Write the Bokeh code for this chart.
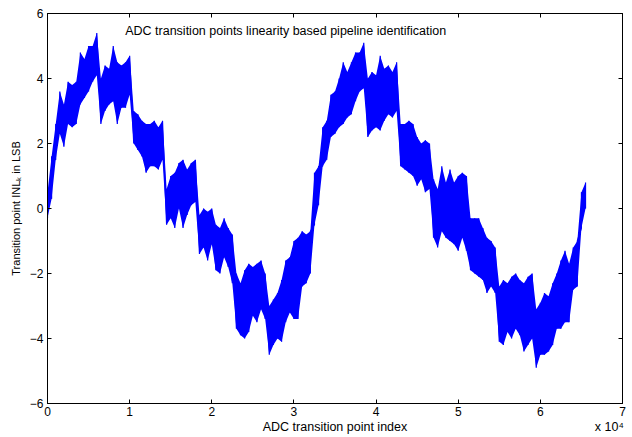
from bokeh.plotting import figure
from bokeh.models import Range1d, LinearAxis, FixedTicker, Label
from bokeh.embed import file_html
from bokeh.resources import INLINE

# Transition point index grid (every 500 codes) and INL envelope
idx = list(range(0, 65501, 500))
inl_low = [
    -0.3, 0.3, 1.5, 2.3, 1.9, 2.6, 2.5, 2.6, 3.2, 3.4,
    3.6, 3.9, 4.1, 2.6, 3.0, 3.2, 3.3, 2.6, 3.1, 3.1,
    3.5, 2.0, 1.8, 1.6, 1.1, 1.3, 1.3, 1.2, 1.5, -0.5,
    -0.3, -0.6, 0.0, -0.6, -0.2, 0.1, 0.2, -1.4, -1.2, -1.6,
    -1.1, -1.9, -2.0, -1.5, -1.8, -2.3, -3.7, -3.9, -4.0, -3.8,
    -3.3, -3.5, -3.1, -3.4, -4.5, -4.2, -4.0, -4.1, -3.5, -3.2,
    -3.4, -3.4, -2.4, -2.3, -2.0, -0.5, 0.1, 1.3, 1.5, 2.2,
    2.3, 2.5, 2.6, 2.8, 2.9, 3.3, 3.6, 3.7, 2.2, 2.4,
    2.5, 2.4, 2.7, 2.9, 2.8, 3.0, 1.3, 1.2, 1.1, 1.0,
    0.7, 0.9, 0.5, 0.6, -0.9, -1.2, -0.7, -0.9, -1.0, -1.1,
    -1.3, -0.9, -1.3, -1.9, -2.0, -2.1, -2.2, -2.6, -2.4, -2.6,
    -4.1, -4.2, -3.8, -4.0, -3.7, -3.9, -4.4, -4.2, -4.0, -4.9,
    -4.5, -4.5, -4.4, -4.2, -3.7, -3.7, -3.5, -3.5, -2.5, -2.4,
    -0.6, 0.0,
]
inl_high = [
    0.5, 1.6, 2.6, 3.6, 3.2, 3.9, 3.8, 3.9, 4.8, 4.6,
    5.0, 5.0, 5.4, 4.0, 4.4, 4.3, 5.0, 4.5, 4.4, 4.5,
    4.7, 3.0, 2.9, 2.7, 2.6, 2.6, 2.7, 2.5, 2.7, 0.6,
    1.0, 1.1, 1.4, 1.5, 1.2, 1.4, 1.5, -0.2, 0.0, -0.1,
    0.0, -0.5, -0.6, -0.3, -0.6, -0.8, -2.0, -2.3, -1.9, -1.7,
    -1.8, -1.7, -1.6, -2.0, -3.0, -2.8, -2.6, -2.2, -1.6, -1.5,
    -1.0, -0.9, -0.7, -0.8, -0.7, 1.1, 1.3, 2.5, 2.7, 3.5,
    3.6, 4.0, 4.5, 4.2, 4.5, 4.8, 4.8, 5.1, 4.0, 4.2,
    4.1, 4.7, 4.3, 4.4, 4.2, 4.5, 2.6, 2.6, 2.7, 2.6,
    2.2, 2.0, 2.1, 2.0, 0.9, 0.6, 1.3, 0.8, 1.2, 0.8,
    1.0, 1.1, 1.0, -0.3, -0.3, -0.3, -0.6, -0.9, -1.0, -1.2,
    -2.4, -2.2, -2.3, -2.1, -2.0, -2.2, -2.3, -2.1, -2.0, -3.1,
    -2.9, -2.6, -2.7, -2.3, -2.0, -1.6, -1.3, -1.7, -1.2, -1.0,
    0.5, 0.8,
]
x_ticks = [0, 10000, 20000, 30000, 40000, 50000, 60000, 70000]
x_tick_labels = ["0", "1", "2", "3", "4", "5", "6", "7"]
y_ticks = [-6, -4, -2, 0, 2, 4, 6]

title_text = "ADC transition points linearity based pipeline identification"
x_label = "ADC transition point index"
x_scale_note = "x 10\u2074"
y_label = "Transition point INL\u2096 in LSB"

FONT = "Liberation Sans"
BLUE = "#0000ff"

p = figure(width=632, height=437, output_backend="svg", toolbar_location=None,
           x_range=Range1d(0, 70000), y_range=Range1d(-6, 6),
           min_border_left=47, min_border_right=10, min_border_top=13,
           min_border_bottom=34, background_fill_color="white",
           border_fill_color="white")
p.grid.visible = False
p.outline_line_color = "black"
p.outline_line_width = 1

# zig-zag path between the envelope values
zx, zy = [], []
for xv, lo, hi in zip(idx, inl_low, inl_high):
    zx += [xv, xv]
    zy += [lo, hi]

p.varea(x=idx, y1=inl_low, y2=inl_high, color=BLUE)
p.line(zx, zy, color=BLUE, line_width=1.2)


def style(ax, size="12px"):
    ax.axis_line_color = "black"
    ax.major_tick_in = 4
    ax.major_tick_out = 0
    ax.minor_tick_in = 0
    ax.minor_tick_out = 0
    ax.major_tick_line_color = "black"
    ax.major_label_text_font = FONT
    ax.major_label_text_font_size = size
    ax.major_label_text_color = "black"
    ax.major_label_standoff = 4
    ax.axis_label_text_font = FONT
    ax.axis_label_text_font_size = "11px"
    ax.axis_label_text_font_style = "normal"
    ax.axis_label_text_color = "black"


xa = p.xaxis[0]
xa.ticker = FixedTicker(ticks=x_ticks)
xa.major_label_overrides = {t: l for t, l in zip(x_ticks, x_tick_labels)}
style(xa)
xa.major_label_standoff = 3

# second row below the tick labels: axis title and the exponent note
lab_pos = [35000, 68400]
xb = LinearAxis(ticker=FixedTicker(ticks=lab_pos))
style(xb, size="12.5px")
xb.major_label_overrides = {lab_pos[0]: x_label, lab_pos[1]: x_scale_note}
xb.axis_line_color = None
xb.major_tick_line_color = None
xb.major_label_standoff = 1
p.add_layout(xb, "below")

ya = p.yaxis[0]
ya.ticker = FixedTicker(ticks=y_ticks)
ya.axis_label = y_label
style(ya)
ya.axis_label_standoff = 5

top = LinearAxis(ticker=FixedTicker(ticks=x_ticks))
style(top, size="0px")
top.major_label_standoff = 0
top.major_label_overrides = {t: "" for t in x_ticks}
p.add_layout(top, "above")
right = LinearAxis(ticker=FixedTicker(ticks=y_ticks))
style(right, size="0px")
right.major_label_standoff = 0
right.major_label_overrides = {t: "" for t in y_ticks}
p.add_layout(right, "right")

p.add_layout(Label(x=29000, y=5.45, text=title_text, text_align="center",
                   text_baseline="middle", text_font=FONT,
                   text_font_size="12.5px", text_color="black"))

open("out.html", "w").write(file_html(p, INLINE))
